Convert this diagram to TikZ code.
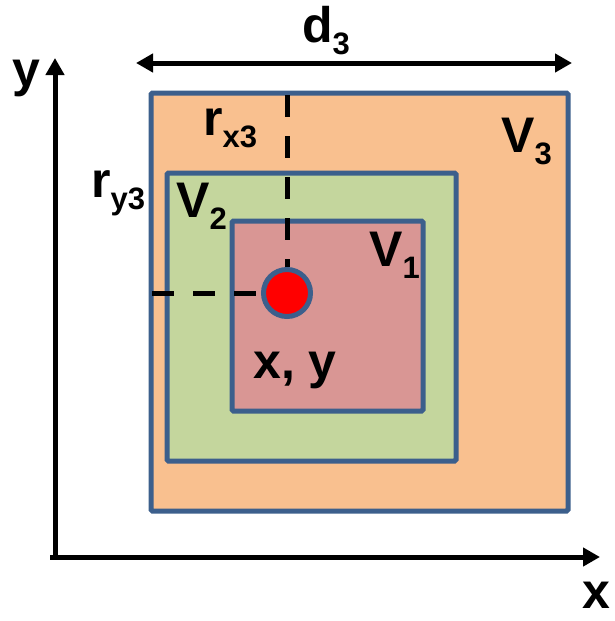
\documentclass[tikz,border=0pt]{standalone}
\usepackage{fontspec}
\setmainfont{Liberation Sans}
\usetikzlibrary{arrows.meta}
\definecolor{borderblue}{HTML}{3C5F8C}
\definecolor{vthree}{HTML}{F9C08F}
\definecolor{vtwo}{HTML}{C4D69D}
\definecolor{vone}{HTML}{D99694}
\newcommand\mysub[1]{\raisebox{-12pt}{\fontsize{31}{31}\selectfont #1}}
\tikzset{
  vbox/.style={draw=borderblue, line width=5pt, rounded corners=1.5pt},
  lbl/.style={font=\fontsize{50}{50}\selectfont\bfseries, inner sep=0pt, anchor=base west},
  axis/.style={line width=5pt, -{Triangle[length=17pt,width=18pt]}},
  dim/.style={line width=5pt, {Triangle[length=17pt,width=18pt]}-{Triangle[length=17pt,width=18pt]}},
  dashln/.style={line width=5pt, dash pattern=on 22pt off 19pt},
}
\begin{document}
\begin{tikzpicture}[x=1pt,y=-1pt]
\useasboundingbox (0,0) rectangle (615,621);
% boxes
\draw[vbox, fill=vthree] (151,93) rectangle (568,511);
\draw[vbox, fill=vtwo] (167,173) rectangle (456,461);
\draw[vbox, fill=vone] (232,221) rectangle (423,411);
% point
\node[circle, draw=borderblue, line width=5pt, fill=red, minimum size=47pt, inner sep=0pt] (pt) at (287,293) {};
\coordinate (topc) at (287,95);
\coordinate (leftc) at (152,293);
\draw[dashln] (topc) -- (pt.north);
\draw[dashln] (leftc) -- (pt.west);
% axes
\coordinate (origin) at (55,557);
\coordinate (ytip) at (55,58);
\coordinate (xstart) at (50,557);
\coordinate (xtip) at (600,557);
\draw[axis] (origin) -- (ytip);
\draw[axis] (xstart) -- (xtip);
% dimension arrow
\coordinate (dl) at (136,63);
\coordinate (dr) at (572,63);
\draw[dim] (dl) -- (dr);
% labels
\node[lbl] (d3) at (302,42) {d\mysub{3}};
\node[lbl] (rx3) at (203,135) {r\mysub{x3}};
\node[lbl] (ry3) at (91,197) {r\mysub{y3}};
\node[lbl] (V3) at (501,152) {V\mysub{3}};
\node[lbl] (V2) at (176,217) {V\mysub{2}};
\node[lbl] (V1) at (369,266) {V\mysub{1}};
\node[lbl] (xy) at (253,378) {x, y};
\node[lbl] (ylab) at (12,86) {y};
\node[lbl] (xlab) at (582,608) {x};
\end{tikzpicture}
\end{document}
